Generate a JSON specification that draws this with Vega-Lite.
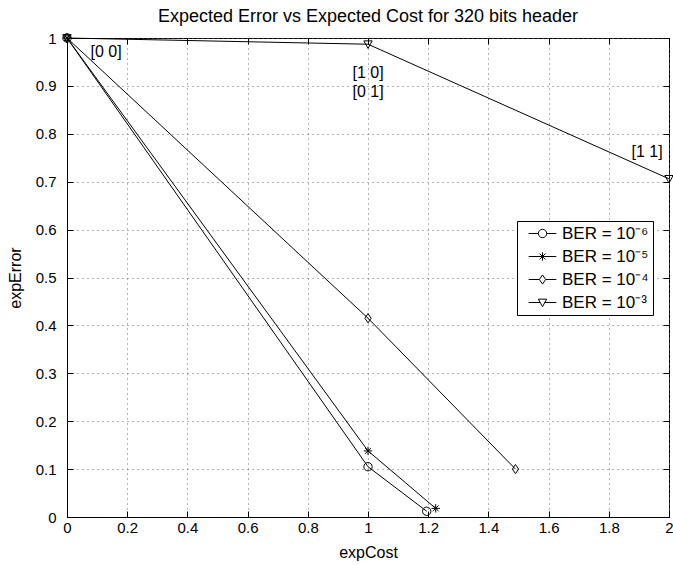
{
  "$schema": "https://vega.github.io/schema/vega-lite/v6.json",
  "autosize": "none",
  "width": 602,
  "height": 479,
  "padding": {"left": 67, "top": 38, "right": 4, "bottom": 48},
  "background": "white",
  "config": {
    "font": "Liberation Sans",
    "view": {"stroke": "black", "strokeWidth": 1},
    "axis": {
      "domainColor": "black",
      "tickColor": "black",
      "labelColor": "black",
      "titleColor": "black",
      "labelFont": "Liberation Sans",
      "titleFont": "Liberation Sans",
      "labelFontSize": 15,
      "titleFontSize": 16,
      "titleFontWeight": "normal",
      "gridColor": "#666666",
      "gridDash": [1, 4],
      "gridOpacity": 1,
      "tickSize": -6,
      "labelFlush": false
    }
  },
  "title": {
    "text": "Expected Error vs Expected Cost for 320 bits header",
    "fontSize": 18,
    "fontWeight": "normal",
    "font": "Liberation Sans",
    "color": "black",
    "offset": 5
  },
  "datasets": {
    "curves": [
      {"ber": "BER = 10⁻⁶", "x": 0, "y": 1},
      {"ber": "BER = 10⁻⁶", "x": 1, "y": 0.105},
      {"ber": "BER = 10⁻⁶", "x": 1.195, "y": 0.012},
      {"ber": "BER = 10⁻⁵", "x": 0, "y": 1},
      {"ber": "BER = 10⁻⁵", "x": 1, "y": 0.138},
      {"ber": "BER = 10⁻⁵", "x": 1.225, "y": 0.018},
      {"ber": "BER = 10⁻⁴", "x": 0, "y": 1},
      {"ber": "BER = 10⁻⁴", "x": 1, "y": 0.415},
      {"ber": "BER = 10⁻⁴", "x": 1.49, "y": 0.1},
      {"ber": "BER = 10⁻³", "x": 0, "y": 1},
      {"ber": "BER = 10⁻³", "x": 1, "y": 0.987},
      {"ber": "BER = 10⁻³", "x": 2, "y": 0.706}
    ],
    "notes": [
      {"label": "[0 0]", "x": 0.13, "y": 0.971},
      {"label": "[1 0]", "x": 1.0, "y": 0.926},
      {"label": "[0 1]", "x": 1.0, "y": 0.888},
      {"label": "[1 1]", "x": 1.927, "y": 0.762}
    ]
  },
  "layer": [
    {
      "data": {"name": "curves"},
      "mark": {"type": "line", "color": "black", "strokeWidth": 1},
      "encoding": {
        "x": {
          "field": "x", "type": "quantitative",
          "scale": {"domain": [0, 2], "nice": false},
          "axis": {"title": "expCost", "values": [0, 0.2, 0.4, 0.6, 0.8, 1, 1.2, 1.4, 1.6, 1.8, 2], "format": "~g", "labelPadding": 9, "titlePadding": 9}
        },
        "y": {
          "field": "y", "type": "quantitative",
          "scale": {"domain": [0, 1], "nice": false},
          "axis": {"title": "expError", "values": [0, 0.1, 0.2, 0.3, 0.4, 0.5, 0.6, 0.7, 0.8, 0.9, 1], "format": "~g", "labelPadding": 17, "titlePadding": 12}
        },
        "detail": {"field": "ber"},
        "order": {"field": "x"}
      }
    },
    {
      "data": {"name": "curves"},
      "mark": {"type": "line", "opacity": 0},
      "encoding": {
        "x": {
          "field": "x", "type": "quantitative",
          "axis": {"orient": "top", "title": null, "labels": false, "grid": false, "domain": false, "values": [0, 0.2, 0.4, 0.6, 0.8, 1, 1.2, 1.4, 1.6, 1.8, 2]}
        },
        "y": {
          "field": "y", "type": "quantitative",
          "axis": {"orient": "right", "title": null, "labels": false, "grid": false, "domain": false, "values": [0, 0.1, 0.2, 0.3, 0.4, 0.5, 0.6, 0.7, 0.8, 0.9, 1]}
        },
        "detail": {"field": "ber"}
      }
    },
    {
      "data": {"name": "curves"},
      "mark": {"type": "point", "filled": false, "stroke": "black", "fill": "white", "fillOpacity": 0, "strokeWidth": 1, "size": 70, "opacity": 1},
      "encoding": {
        "x": {"field": "x", "type": "quantitative", "axis": null},
        "y": {"field": "y", "type": "quantitative", "axis": null},
        "shape": {
          "field": "ber", "type": "nominal",
          "scale": {
            "domain": ["BER = 10⁻⁶", "BER = 10⁻⁵", "BER = 10⁻⁴", "BER = 10⁻³"],
            "range": [
              "M-1,0A1,1 0 1,0 1,0A1,1 0 1,0 -1,0Z",
              "M0,-1V1M-1,0H1M-0.7,-0.7L0.7,0.7M-0.7,0.7L0.7,-0.7",
              "M0,-1.1L0.75,0L0,1.1L-0.75,0Z",
              "M-1,-0.8L1,-0.8L0,1Z"
            ]
          },
          "legend": null
        }
      }
    },
    {
      "data": {"name": "curves"},
      "mark": {"type": "point", "filled": false, "stroke": "black", "strokeWidth": 1, "size": 70, "opacity": 0},
      "encoding": {
        "x": {"field": "x", "type": "quantitative", "axis": null},
        "y": {"field": "y", "type": "quantitative", "axis": null},
        "shape": {
          "field": "ber", "type": "nominal",
          "scale": {
            "domain": ["BER = 10⁻⁶", "BER = 10⁻⁵", "BER = 10⁻⁴", "BER = 10⁻³"],
            "range": [
              "M-3.3,0H-1M1,0H3.3M-1,0A1,1 0 1,0 1,0A1,1 0 1,0 -1,0Z",
              "M-3.3,0H3.3M0,-1V1M-0.7,-0.7L0.7,0.7M-0.7,0.7L0.7,-0.7",
              "M-3.3,0H-0.75M0.75,0H3.3M0,-1.1L0.75,0L0,1.1L-0.75,0Z",
              "M-3.3,0H-0.5M0.5,0H3.3M-1,-0.8L1,-0.8L0,1Z"
            ]
          },
          "legend": {
            "title": null,
            "orient": "none",
            "legendX": 450,
            "legendY": 183,
            "strokeColor": "black",
            "fillColor": "white",
            "padding": 4,
            "symbolOpacity": 1,
            "symbolStrokeColor": "black",
            "symbolFillColor": "white",
            "symbolStrokeWidth": 1,
            "symbolSize": 70,
            "symbolOffset": 13,
            "labelOffset": 11,
            "labelFontSize": 17,
            "labelFont": "Liberation Sans",
            "labelColor": "black",
            "rowPadding": 5,
            "labelLimit": 200
          }
        }
      }
    },
    {
      "data": {"name": "notes"},
      "mark": {"type": "text", "fontSize": 16, "color": "black", "font": "Liberation Sans", "baseline": "middle", "align": "center"},
      "encoding": {
        "x": {"field": "x", "type": "quantitative", "axis": null},
        "y": {"field": "y", "type": "quantitative", "axis": null},
        "text": {"field": "label"}
      }
    }
  ],
  "resolve": {"scale": {"shape": "independent"}, "axis": {"x": "independent", "y": "independent"}}
}
